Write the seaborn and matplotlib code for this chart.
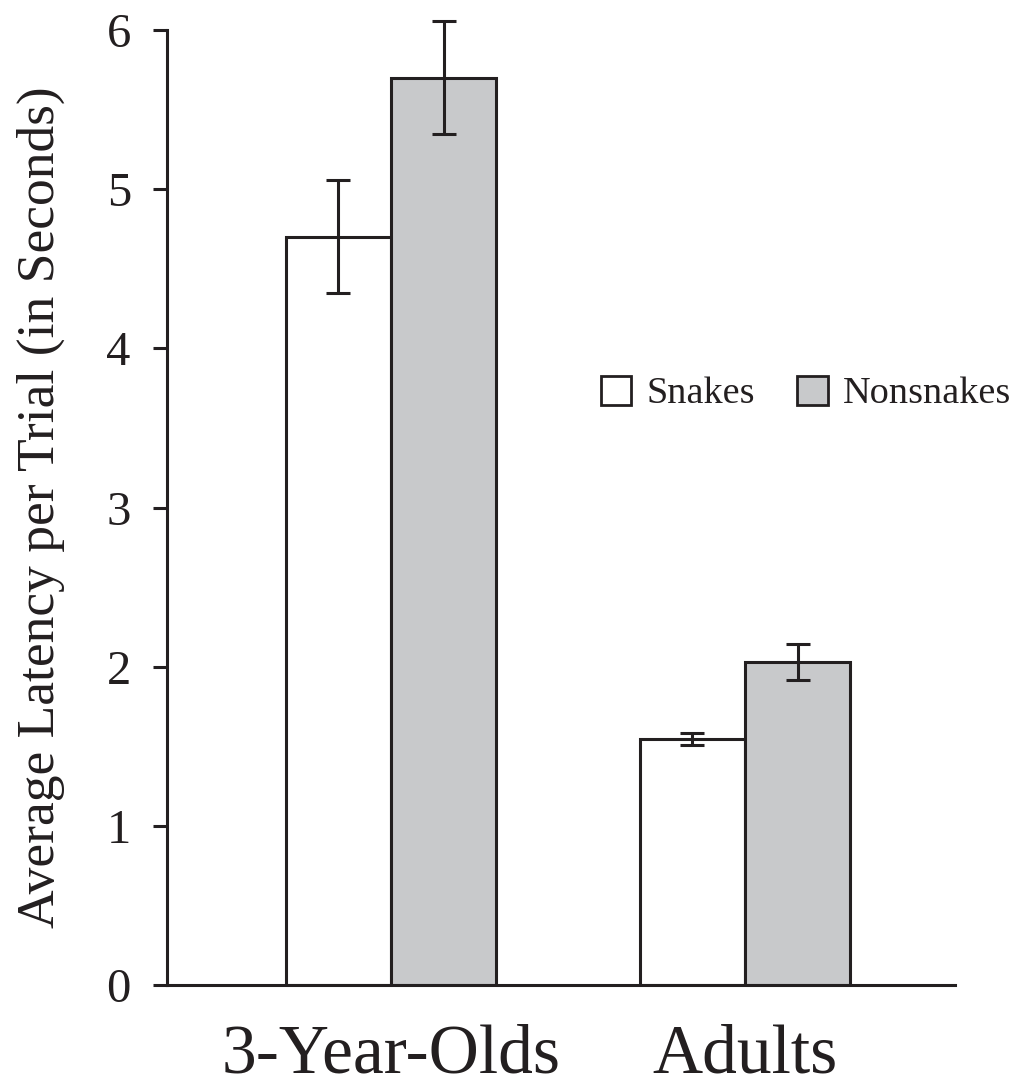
import matplotlib
matplotlib.use("Agg")
import matplotlib.pyplot as plt
import seaborn as sns
import pandas as pd
from matplotlib.patches import Patch

groups = ["3-Year-Olds", "3-Year-Olds", "Adults", "Adults"]
stimulus = ["Snakes", "Nonsnakes", "Snakes", "Nonsnakes"]
latency = [4.70, 5.70, 1.545, 2.03]
sem = [0.355, 0.355, 0.04, 0.115]

ink = "#231f20"
fills = {"Snakes": "#ffffff", "Nonsnakes": "#c8c9cb"}

sns.set_theme(style="ticks")
plt.rcParams["font.family"] = ["Liberation Serif", "DejaVu Serif"]
plt.rcParams["text.color"] = ink

df = pd.DataFrame({"group": groups, "stimulus": stimulus,
                   "latency": latency, "sem": sem})

fig = plt.figure(figsize=(10.2, 10.87), dpi=100)
ax = fig.add_axes([0.1637, 0.0938, 0.7725, 0.8786])

order = ["Snakes", "Nonsnakes"]
group_order = ["3-Year-Olds", "Adults"]

sns.barplot(data=df, x="group", y="latency", hue="stimulus",
            order=group_order, hue_order=order, palette=fills,
            width=0.594, gap=0, errorbar=None, edgecolor=ink,
            linewidth=2.2, legend=False, ax=ax)

# error bars centred on each drawn bar (patches come hue by hue)
for i, p in enumerate(ax.patches):
    row = df[(df["stimulus"] == order[i // 2]) &
             (df["group"] == group_order[i % 2])].iloc[0]
    xc = p.get_x() + p.get_width() / 2
    eb = ax.errorbar(xc, row["latency"], yerr=row["sem"], fmt="none",
                     ecolor=ink, elinewidth=2.2, capsize=8.5, capthick=2.2,
                     zorder=5)
    for art in eb.lines[1] + eb.lines[2]:
        art.set_clip_on(False)

ax.set_xlim(-0.633, 1.593)
ax.set_ylim(0, 6)
ax.set_yticks(range(0, 7))
ax.set_xlabel("")
ax.set_ylabel("Average Latency per Trial (in Seconds)", fontsize=38.5,
              color=ink, labelpad=30)

for side in ["top", "right"]:
    ax.spines[side].set_visible(False)
for side in ["left", "bottom"]:
    ax.spines[side].set_linewidth(2.2)
    ax.spines[side].set_color(ink)

ax.tick_params(axis="y", length=10, width=2.2, color=ink,
               labelsize=35, pad=16, labelcolor=ink)
ax.tick_params(axis="x", length=0, labelsize=50, pad=28, labelcolor=ink)

handles = [Patch(facecolor=fills[k], edgecolor=ink, linewidth=2.0, label=k)
           for k in order]
fig.legend(handles=handles, loc="center left", ncol=2, frameon=False,
           bbox_to_anchor=(0.589, 0.638), fontsize=27.5,
           handlelength=0.8, handleheight=0.8, handletextpad=0.4,
           columnspacing=1.1, borderaxespad=0, borderpad=0)

fig.savefig("out.png", dpi=100)
